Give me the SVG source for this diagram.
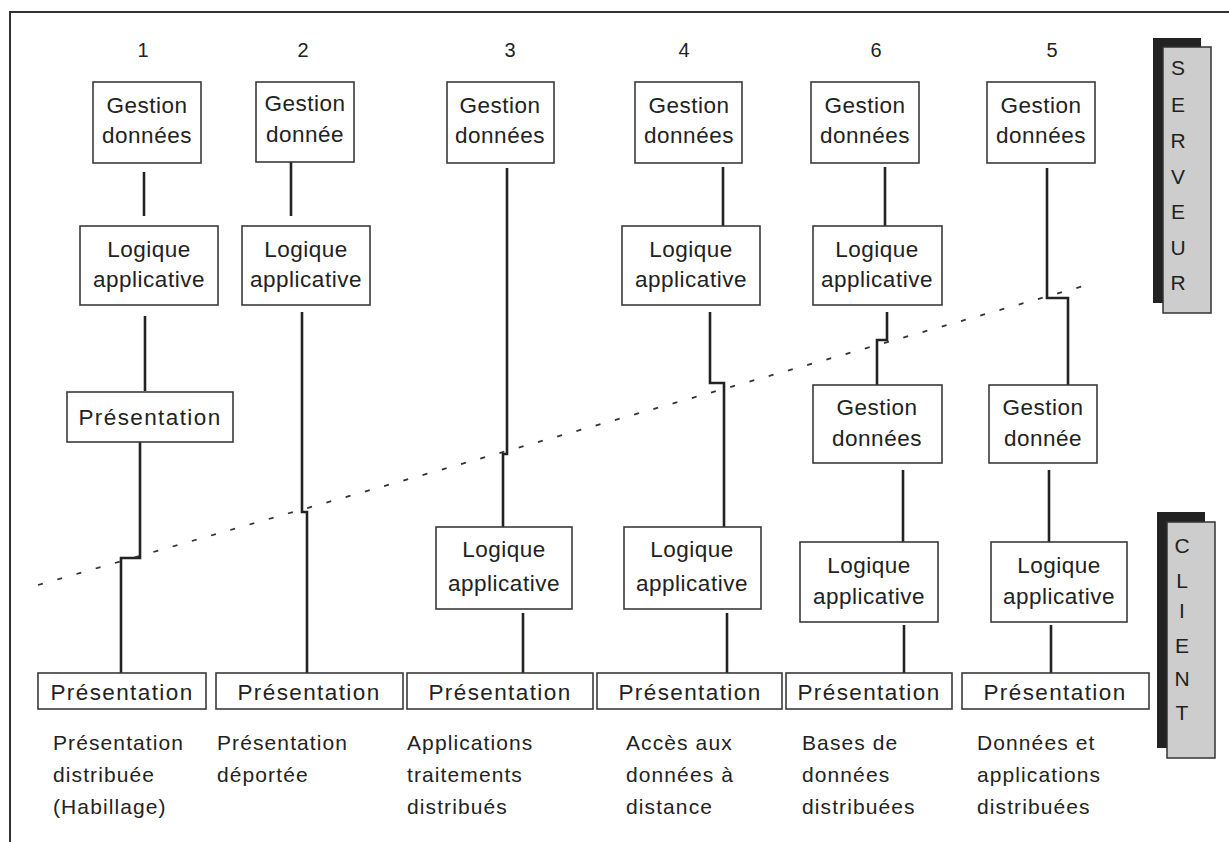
<svg xmlns="http://www.w3.org/2000/svg" width="1229" height="842" viewBox="0 0 1229 842">
<style>
.bx{fill:#fff;stroke:#3a3a3a;stroke-width:1.6}
.t{font-family:"Liberation Sans",Arial,sans-serif;font-size:22.5px;fill:#222;text-anchor:middle;letter-spacing:0.5px}
.tp{font-family:"Liberation Sans",Arial,sans-serif;font-size:22.5px;fill:#222;text-anchor:middle;letter-spacing:1.4px}
.num{font-family:"Liberation Sans",Arial,sans-serif;font-size:20px;fill:#222;text-anchor:middle}
.cap{font-family:"Liberation Sans",Arial,sans-serif;font-size:21px;fill:#222;letter-spacing:1.1px}
.vl{font-family:"Liberation Sans",Arial,sans-serif;font-size:21px;fill:#222;text-anchor:middle}
.c{fill:none;stroke:#222;stroke-width:2.6}
.sh{fill:#222}
.gr{fill:#cdcdcd;stroke:#333;stroke-width:1.5}
</style>
<rect width="1229" height="842" fill="#fff"/>
<path d="M10,842 V12 H1229" fill="none" stroke="#333" stroke-width="2"/>

<g id="numbers">
<text class="num" x="143" y="57">1</text>
<text class="num" x="303" y="57">2</text>
<text class="num" x="510" y="57">3</text>
<text class="num" x="684" y="57">4</text>
<text class="num" x="876" y="57">6</text>
<text class="num" x="1052" y="57">5</text>
</g>

<g id="connectors">
<path class="c" d="M144,172 V216"/>
<path class="c" d="M145,316 V391"/>
<path class="c" d="M140,442 V558 H121 V673"/>
<path class="c" d="M291,162 V216"/>
<path class="c" d="M302,312 V512 H307 V673"/>
<path class="c" d="M507,168 V454 H503 V527"/>
<path class="c" d="M523,613 V673"/>
<path class="c" d="M723,167 V226"/>
<path class="c" d="M710,312 V383 H724 V527"/>
<path class="c" d="M727,613 V673"/>
<path class="c" d="M885,167 V226"/>
<path class="c" d="M887,312 V340 H877 V385"/>
<path class="c" d="M903,470 V542"/>
<path class="c" d="M904,625 V673"/>
<path class="c" d="M1047,168 V298 H1068 V385"/>
<path class="c" d="M1049,470 V542"/>
<path class="c" d="M1051,625 V673"/>
<path d="M38,585 L1087,285" fill="none" stroke="#333" stroke-width="1.8" stroke-dasharray="5 15"/>
</g>

<!-- Column 1 -->
<g id="c1-gestion"><rect class="bx" x="93" y="82" width="108" height="81"/><text class="t" x="147" y="113">Gestion</text><text class="t" x="147" y="143">données</text></g>
<g id="c1-logique"><rect class="bx" x="80" y="226" width="138" height="79"/><text class="t" x="149" y="257">Logique</text><text class="t" x="149" y="287">applicative</text></g>
<g id="c1-presentation-serveur"><rect class="bx" x="67" y="392" width="166" height="50"/><text class="tp" x="150" y="425">Présentation</text></g>
<g id="c1-presentation"><rect class="bx" x="38" y="673" width="168" height="36"/><text class="tp" x="122" y="700">Présentation</text></g>
<g id="c1-caption"><text class="cap" x="53" y="750">Présentation</text><text class="cap" x="53" y="782">distribuée</text><text class="cap" x="53" y="814">(Habillage)</text></g>

<!-- Column 2 -->
<g id="c2-gestion"><rect class="bx" x="256" y="82" width="98" height="80"/><text class="t" x="305" y="111">Gestion</text><text class="t" x="305" y="142">donnée</text></g>
<g id="c2-logique"><rect class="bx" x="242" y="226" width="128" height="79"/><text class="t" x="306" y="257">Logique</text><text class="t" x="306" y="287">applicative</text></g>
<g id="c2-presentation"><rect class="bx" x="216" y="673" width="187" height="36"/><text class="tp" x="309" y="700">Présentation</text></g>
<g id="c2-caption"><text class="cap" x="217" y="750">Présentation</text><text class="cap" x="217" y="782">déportée</text></g>

<!-- Column 3 -->
<g id="c3-gestion"><rect class="bx" x="447" y="82" width="107" height="81"/><text class="t" x="500" y="113">Gestion</text><text class="t" x="500" y="143">données</text></g>
<g id="c3-logique"><rect class="bx" x="436" y="527" width="136" height="82"/><text class="t" x="504" y="557">Logique</text><text class="t" x="504" y="591">applicative</text></g>
<g id="c3-presentation"><rect class="bx" x="407" y="673" width="186" height="36"/><text class="tp" x="500" y="700">Présentation</text></g>
<g id="c3-caption"><text class="cap" x="407" y="750">Applications</text><text class="cap" x="407" y="782">traitements</text><text class="cap" x="407" y="814">distribués</text></g>

<!-- Column 4 -->
<g id="c4-gestion"><rect class="bx" x="635" y="82" width="107" height="81"/><text class="t" x="689" y="113">Gestion</text><text class="t" x="689" y="143">données</text></g>
<g id="c4-logique-serveur"><rect class="bx" x="622" y="226" width="138" height="79"/><text class="t" x="691" y="257">Logique</text><text class="t" x="691" y="287">applicative</text></g>
<g id="c4-logique"><rect class="bx" x="624" y="527" width="137" height="82"/><text class="t" x="692" y="557">Logique</text><text class="t" x="692" y="591">applicative</text></g>
<g id="c4-presentation"><rect class="bx" x="597" y="673" width="185" height="36"/><text class="tp" x="690" y="700">Présentation</text></g>
<g id="c4-caption"><text class="cap" x="626" y="750">Accès aux</text><text class="cap" x="626" y="782">données à</text><text class="cap" x="626" y="814">distance</text></g>

<!-- Column 6 -->
<g id="c6-gestion-serveur"><rect class="bx" x="811" y="82" width="108" height="81"/><text class="t" x="865" y="113">Gestion</text><text class="t" x="865" y="143">données</text></g>
<g id="c6-logique-serveur"><rect class="bx" x="813" y="226" width="129" height="79"/><text class="t" x="877" y="257">Logique</text><text class="t" x="877" y="287">applicative</text></g>
<g id="c6-gestion"><rect class="bx" x="813" y="385" width="129" height="78"/><text class="t" x="877" y="415">Gestion</text><text class="t" x="877" y="446">données</text></g>
<g id="c6-logique"><rect class="bx" x="800" y="542" width="138" height="80"/><text class="t" x="869" y="573">Logique</text><text class="t" x="869" y="604">applicative</text></g>
<g id="c6-presentation"><rect class="bx" x="786" y="673" width="166" height="36"/><text class="tp" x="869" y="700">Présentation</text></g>
<g id="c6-caption"><text class="cap" x="802" y="750">Bases de</text><text class="cap" x="802" y="782">données</text><text class="cap" x="802" y="814">distribuées</text></g>

<!-- Column 5 -->
<g id="c5-gestion-serveur"><rect class="bx" x="987" y="82" width="108" height="81"/><text class="t" x="1041" y="113">Gestion</text><text class="t" x="1041" y="143">données</text></g>
<g id="c5-gestion"><rect class="bx" x="989" y="385" width="108" height="78"/><text class="t" x="1043" y="415">Gestion</text><text class="t" x="1043" y="446">donnée</text></g>
<g id="c5-logique"><rect class="bx" x="991" y="542" width="136" height="80"/><text class="t" x="1059" y="573">Logique</text><text class="t" x="1059" y="604">applicative</text></g>
<g id="c5-presentation"><rect class="bx" x="962" y="673" width="187" height="36"/><text class="tp" x="1055" y="700">Présentation</text></g>
<g id="c5-caption"><text class="cap" x="977" y="750">Données et</text><text class="cap" x="977" y="782">applications</text><text class="cap" x="977" y="814">distribuées</text></g>

<!-- Labels -->
<g id="serveur">
<rect class="sh" x="1153" y="38" width="48" height="265"/>
<rect class="gr" x="1163" y="47" width="48" height="266"/>
<text class="vl" x="1178" y="75">S</text>
<text class="vl" x="1178" y="112">E</text>
<text class="vl" x="1178" y="148">R</text>
<text class="vl" x="1178" y="184">V</text>
<text class="vl" x="1178" y="219">E</text>
<text class="vl" x="1178" y="255">U</text>
<text class="vl" x="1178" y="290">R</text>
</g>
<g id="client">
<rect class="sh" x="1157" y="512" width="48" height="236"/>
<rect class="gr" x="1167" y="522" width="48" height="236"/>
<text class="vl" x="1182" y="553">C</text>
<text class="vl" x="1182" y="588">L</text>
<text class="vl" x="1182" y="618">I</text>
<text class="vl" x="1182" y="653">E</text>
<text class="vl" x="1182" y="686">N</text>
<text class="vl" x="1182" y="720">T</text>
</g>
</svg>
